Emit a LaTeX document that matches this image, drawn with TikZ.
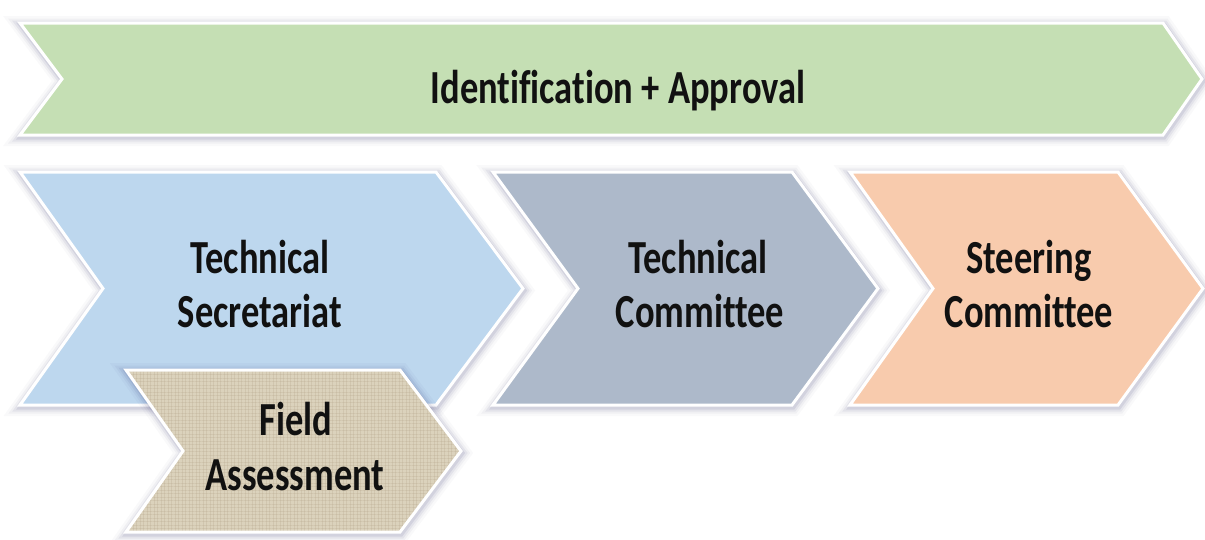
\documentclass[tikz,border=0pt]{standalone}
\usepackage{graphicx}
\usepackage{fontspec}
\setmainfont{Carlito}[Ligatures={NoCommon}]
\usetikzlibrary{patterns.meta}
\definecolor{cgreen}{HTML}{C5DFB4}
\definecolor{cblue}{HTML}{BDD7EE}
\definecolor{cgray}{HTML}{ADB9CA}
\definecolor{corange}{HTML}{F8CBAD}
\definecolor{cfield}{HTML}{DBD2BC}
\definecolor{cweave}{HTML}{B5A689}
\definecolor{ctext}{HTML}{111111}
\tikzset{
  chevron/.style={draw=white, line width=3pt, line join=miter},
  lbl/.style={anchor=base, inner sep=0pt, text=ctext,
    font=\fontsize{36.5}{36.5}\bfseries\selectfont},
}
\newcommand\myglow[1]{%
  \foreach \w/\o in {18/0.025,13/0.035,9/0.05,5/0.07}{%
    \draw[line width=\w pt, draw=black!70!blue, opacity=\o, line join=miter, shift={(1,2)}] #1;}}
\newcommand\st[1]{\scalebox{1}[1.3]{#1}}
\begin{document}
\begin{tikzpicture}[x=1pt,y=-1pt]
\useasboundingbox (0,0) rectangle (1205,539);
\fill[white] (0,0) rectangle (1205,539);
% banner
\myglow{(20,23) -- (1163,23) -- (1202,79) -- (1163,135) -- (20,135) -- (62,79) -- cycle}
\filldraw[chevron, fill=cgreen] (20,23) -- (1163,23) -- (1202,79) -- (1163,135) -- (20,135) -- (62,79) -- cycle;
\node[lbl] (ia) at (618,103) {\st{Identification + Approval}};
% technical secretariat
\myglow{(20,172) -- (436,172) -- (523,288.5) -- (436,405) -- (20,405) -- (103,288.5) -- cycle}
\filldraw[chevron, fill=cblue] (20,172) -- (436,172) -- (523,288.5) -- (436,405) -- (20,405) -- (103,288.5) -- cycle;
\node[lbl] (ts1) at (260,273) {\st{Technical}};
\node[lbl] (ts2) at (260,327) {\st{Secretariat}};
% field assessment
\myglow{(126,370) -- (400,370) -- (461,451) -- (400,532) -- (126,532) -- (183,451) -- cycle}
\fill[cfield] (126,370) -- (400,370) -- (461,451) -- (400,532) -- (126,532) -- (183,451) -- cycle;
\fill[pattern={Lines[distance=3.5pt,angle=0,line width=0.8pt]}, pattern color=cweave, opacity=0.25]
  (126,370) -- (400,370) -- (461,451) -- (400,532) -- (126,532) -- (183,451) -- cycle;
\fill[pattern={Lines[distance=3.5pt,angle=90,line width=0.8pt]}, pattern color=cweave, opacity=0.25]
  (126,370) -- (400,370) -- (461,451) -- (400,532) -- (126,532) -- (183,451) -- cycle;
\draw[chevron] (126,370) -- (400,370) -- (461,451) -- (400,532) -- (126,532) -- (183,451) -- cycle;
\node[lbl] (fa1) at (296,435) {\st{Field}};
\node[lbl] (fa2) at (295,490) {\st{Assessment}};
% technical committee
\myglow{(493,172) -- (792,172) -- (878,288.5) -- (792,405) -- (493,405) -- (578,288.5) -- cycle}
\filldraw[chevron, fill=cgray] (493,172) -- (792,172) -- (878,288.5) -- (792,405) -- (493,405) -- (578,288.5) -- cycle;
\node[lbl] (tc1) at (698,273) {\st{Technical}};
\node[lbl] (tc2) at (700,327) {\st{Committee}};
% steering committee
\myglow{(850,172) -- (1118,172) -- (1203,288.5) -- (1118,405) -- (850,405) -- (933,288.5) -- cycle}
\filldraw[chevron, fill=corange] (850,172) -- (1118,172) -- (1203,288.5) -- (1118,405) -- (850,405) -- (933,288.5) -- cycle;
\node[lbl] (sc1) at (1029,273) {\st{Steering}};
\node[lbl] (sc2) at (1029,327) {\st{Committee}};
\end{tikzpicture}
\end{document}
